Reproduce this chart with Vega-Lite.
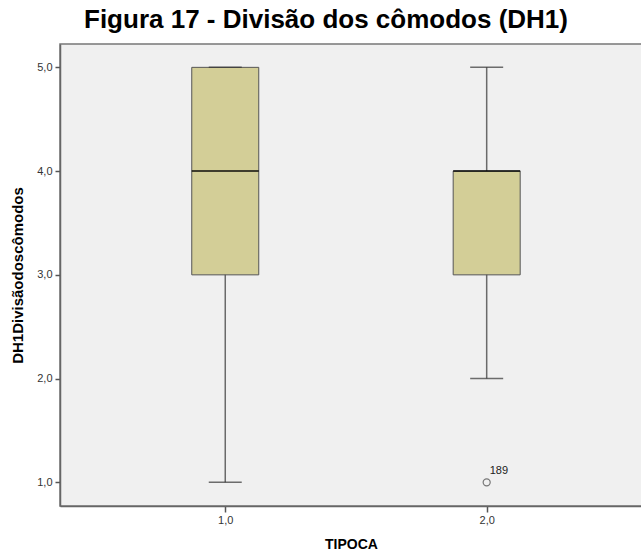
{
  "$schema": "https://vega.github.io/schema/vega-lite/v6.json",
  "width": 582,
  "height": 462,
  "autosize": "none",
  "padding": {"left": 60, "top": 44, "right": 0, "bottom": 47},
  "background": "white",
  "title": {
    "text": "Figura 17 - Divisão dos cômodos (DH1)",
    "font": "Liberation Sans",
    "fontSize": 26,
    "fontWeight": "bold",
    "color": "#000000",
    "anchor": "middle",
    "frame": "group",
    "baseline": "alphabetic",
    "offset": -10,
    "dx": -25
  },
  "config": {
    "view": {"fill": "#f0f0f0", "stroke": "#777777", "strokeWidth": 1.5},
    "axis": {
      "labelFont": "Liberation Sans",
      "labelFontSize": 11,
      "labelColor": "#333333",
      "titleFont": "Liberation Sans",
      "titleFontSize": 14,
      "titleFontWeight": "bold",
      "titleColor": "#000000",
      "domainColor": "#666666",
      "domainWidth": 1.5,
      "tickColor": "#555555",
      "tickWidth": 1.5,
      "grid": false
    }
  },
  "datasets": {
    "boxes": [
      {"TIPOCA": 1, "min": 1, "q1": 3, "median": 4, "q3": 5, "max": 5},
      {"TIPOCA": 2, "min": 2, "q1": 3, "median": 4, "q3": 4, "max": 5}
    ],
    "outliers": [
      {"TIPOCA": 2, "value": 1, "case": "189"}
    ]
  },
  "layer": [
    {
      "data": {"name": "boxes"},
      "mark": {"type": "rule", "color": "#6a6a6a", "strokeWidth": 1.5},
      "encoding": {
        "x": {
          "field": "TIPOCA", "type": "quantitative",
          "scale": {"domain": [0.387, 2.575], "nice": false, "zero": false},
          "axis": {"values": [1, 2], "labelExpr": "replace(format(datum.value, '.1f'), '.', ',')", "title": "TIPOCA", "tickSize": 6, "labelPadding": 2, "titlePadding": 12}
        },
        "y": {
          "field": "min", "type": "quantitative",
          "scale": {"domain": [0.772, 5.225], "nice": false, "zero": false},
          "axis": {"values": [1, 2, 3, 4, 5], "labelExpr": "replace(format(datum.value, '.1f'), '.', ',')", "title": "DH1Divisãodoscômodos", "titleFontSize": 15, "tickSize": 5, "labelPadding": 3, "titlePadding": 11}
        },
        "y2": {"field": "max"}
      }
    },
    {
      "data": {"name": "boxes"},
      "mark": {"type": "bar", "size": 67, "color": "#d3ce97", "stroke": "#555555", "strokeWidth": 1},
      "encoding": {
        "x": {"field": "TIPOCA", "type": "quantitative"},
        "y": {"field": "q1", "type": "quantitative"},
        "y2": {"field": "q3"}
      }
    },
    {
      "data": {"name": "boxes"},
      "mark": {"type": "tick", "orient": "horizontal", "size": 33, "thickness": 1.5, "color": "#333333"},
      "encoding": {
        "x": {"field": "TIPOCA", "type": "quantitative"},
        "y": {"field": "min", "type": "quantitative"}
      }
    },
    {
      "data": {"name": "boxes"},
      "mark": {"type": "tick", "orient": "horizontal", "size": 33, "thickness": 1.5, "color": "#333333"},
      "encoding": {
        "x": {"field": "TIPOCA", "type": "quantitative"},
        "y": {"field": "max", "type": "quantitative"}
      }
    },
    {
      "data": {"name": "boxes"},
      "mark": {"type": "tick", "orient": "horizontal", "size": 67, "thickness": 2, "color": "#000000"},
      "encoding": {
        "x": {"field": "TIPOCA", "type": "quantitative"},
        "y": {"field": "median", "type": "quantitative"}
      }
    },
    {
      "data": {"name": "outliers"},
      "mark": {"type": "point", "shape": "circle", "filled": false, "size": 50, "stroke": "#444444", "strokeWidth": 1.2},
      "encoding": {
        "x": {"field": "TIPOCA", "type": "quantitative"},
        "y": {"field": "value", "type": "quantitative"}
      }
    },
    {
      "data": {"name": "outliers"},
      "mark": {"type": "text", "align": "left", "baseline": "alphabetic", "dx": 3, "dy": -8, "font": "Liberation Sans", "fontSize": 11, "color": "#222222"},
      "encoding": {
        "x": {"field": "TIPOCA", "type": "quantitative"},
        "y": {"field": "value", "type": "quantitative"},
        "text": {"field": "case"}
      }
    }
  ]
}
